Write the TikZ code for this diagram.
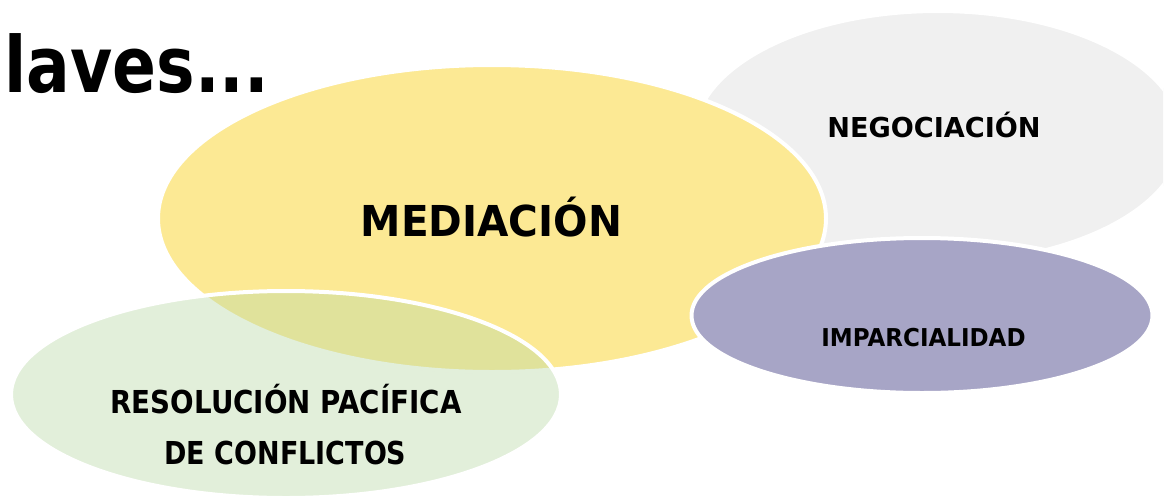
\documentclass[tikz,border=0pt]{standalone}
\usepackage{fontspec}
\setmainfont{DejaVu Sans}
\usetikzlibrary{shapes.geometric}
\definecolor{grisclaro}{RGB}{240,240,240}
\definecolor{amarillo}{RGB}{252,233,148}
\definecolor{lila}{RGB}{167,165,198}
\definecolor{verde}{RGB}{186,217,167}

\begin{document}
\begin{tikzpicture}[x=0.5pt, y=-0.5pt]
  \tikzset{BlobStyle/.style = {
  shape = ellipse,
  draw = white,
  line width = 2pt,
  inner sep = 0pt,
  outer sep = 0pt}}
  \tikzset{KeyStyle/.style = {
  text = black,
  inner sep = 0pt,
  anchor = base}}
  \useasboundingbox (0,0) rectangle (1168,499);
  \begin{scope}
    \clip (0,0) rectangle (1163,499);
    \node[BlobStyle, fill=grisclaro, minimum width=244pt, minimum height=126pt] (Negociacion) at (938,137) {};
  \end{scope}
  \node[BlobStyle, fill=amarillo, minimum width=334pt, minimum height=153.5pt] (Mediacion) at (492,218.5) {};
  \node[BlobStyle, fill=lila, minimum width=230.5pt, minimum height=77.5pt] (Imparcialidad) at (922,315.5) {};
  \node[BlobStyle, fill=verde, fill opacity=0.42, minimum width=275pt, minimum height=103.5pt] (Resolucion) at (286,394.5) {};
  \node[KeyStyle, anchor=base west, font=\bfseries\fontsize{38.8}{40}\selectfont] (Titulo) at (4,92) {\scalebox{0.835}[1]{laves...}};
  \node[KeyStyle, font=\bfseries\fontsize{21.3}{24}\selectfont] (MediacionTxt) at (491.5,236) {\scalebox{0.952}[1]{MEDIACIÓN}};
  \node[KeyStyle, font=\bfseries\fontsize{13.7}{16}\selectfont] (NegociacionTxt) at (934,137) {\scalebox{0.99}[1]{NEGOCIACIÓN}};
  \node[KeyStyle, font=\bfseries\fontsize{12.3}{14}\selectfont] (ImparcialidadTxt) at (923.5,346) {\scalebox{0.935}[1]{IMPARCIALIDAD}};
  \node[KeyStyle, font=\bfseries\fontsize{15.8}{18}\selectfont] (ResolucionTxt) at (286,413) {\scalebox{0.877}[1]{RESOLUCIÓN PACÍFICA}};
  \node[KeyStyle, font=\bfseries\fontsize{15.8}{18}\selectfont] (ConflictosTxt) at (285.5,464) {\scalebox{0.854}[1]{DE CONFLICTOS}};
\end{tikzpicture}
\end{document}
